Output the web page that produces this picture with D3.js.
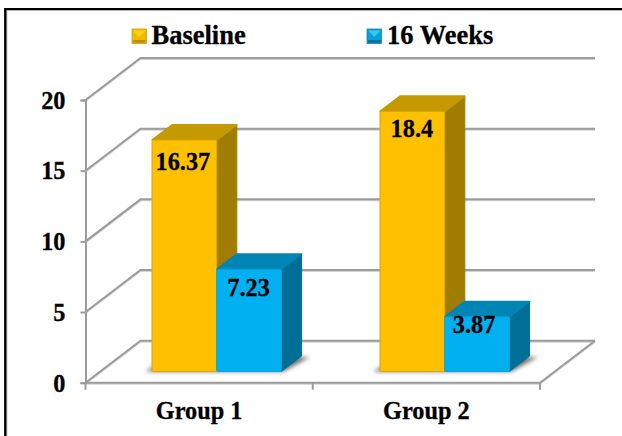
<!DOCTYPE html>
<html>
<head>
<meta charset="utf-8">
<script src="https://cdn.jsdelivr.net/npm/d3@7"></script>
<style>
  html, body { margin: 0; padding: 0; background: #fff; }
  svg { display: block; }
  text { font-family: "Liberation Serif", serif; font-weight: bold; fill: #000; stroke: #000; stroke-width: 0.3px; }
</style>
</head>
<body>
<svg id="chart" width="622" height="436"></svg>
<script>
const groups = ["Group 1", "Group 2"];
const seriesNames = ["Baseline", "16 Weeks"];
const baseline = [16.37, 18.4];
const weeks16 = [7.23, 3.87];
const yTicks = [0, 5, 10, 15, 20];

// Face colours of each cuboid series: front, top, side, front edge
const palettes = [
  { front: "#ffc000", top: "#c59a00", side: "#a07c00", edge: "#d9a50a" },
  { front: "#00b0f0", top: "#0085b5", side: "#006f98", edge: "#0a9fd6" }
];

// Oblique projection of the plot box
const depth = { dx: 55, dy: -42 };
const barDepthStart = 0.268;  // share of the floor depth in front of the bars
const barDepthSpan = 0.365;   // share of the floor depth the bars occupy

const svg = d3.select("#chart");
const y = d3.scaleLinear().domain([0, 20]).range([382.7, 100]);
const x = d3.scaleBand().domain(groups).range([85.5, 540]);
const xBars = d3.scaleBand().domain(groups).range([152, 608]);
const inner = d3.scaleBand().domain(seriesNames).range([0, 129.5]);

const defs = svg.append("defs");
defs.append("filter").attr("id", "soft")
  .attr("x", "-30%").attr("y", "-30%").attr("width", "160%").attr("height", "160%")
  .append("feGaussianBlur").attr("stdDeviation", 2);

// Outer frame: left and top rules only
const frame = svg.append("g");
frame.append("path").attr("d", "M6.5,436V10H622").attr("fill", "none").attr("stroke", "#9a9a9a").attr("stroke-width", 1.5);
frame.append("path").attr("d", "M5.2,436V9H622").attr("fill", "none").attr("stroke", "#000").attr("stroke-width", 2.2);

// Walls and floor
const grid = svg.append("g").attr("fill", "none");
const x0 = x.range()[0], x1 = x.range()[1];
const wallPath = v => {
  const p = d3.path();
  p.moveTo(x0, y(v));
  p.lineTo(x0 + depth.dx, y(v) + depth.dy);
  p.lineTo(x1 + depth.dx, y(v) + depth.dy);
  return p.toString();
};
const floorPath = () => {
  const p = d3.path();
  p.moveTo(x0, y(0));
  p.lineTo(x1, y(0));
  p.lineTo(x1 + depth.dx, y(0) + depth.dy);
  return p.toString();
};
[["#d4d4d4", 1], ["#9c9c9c", 0]].forEach(([colour, shift]) => {
  const layer = grid.append("g").attr("stroke", colour).attr("stroke-width", 2)
    .attr("transform", `translate(0,${shift})`);
  layer.selectAll("path.wall").data(yTicks).join("path").attr("class", "wall").attr("d", wallPath);
  layer.append("path").attr("d", floorPath());
});

// Value axis on the front left edge
const axisY = svg.append("g").attr("transform", `translate(${x0},0)`)
  .call(d3.axisLeft(y).tickValues(yTicks).tickSize(5).tickPadding(15));
axisY.select(".domain").attr("stroke", "#9c9c9c").attr("stroke-width", 2);
axisY.selectAll(".tick line").attr("stroke", "#9c9c9c").attr("stroke-width", 2);
axisY.selectAll(".tick text").attr("font-size", 24.3).attr("font-family", "Liberation Serif")
  .attr("dy", 8.3).attr("fill", "#000");

// Category separators below the floor
const boundaries = [x0, x.bandwidth() + x0, x1];
svg.append("g").selectAll("line").data(boundaries).join("line")
  .attr("x1", d => d).attr("x2", d => d)
  .attr("y1", y(0)).attr("y2", y(0) + 7)
  .attr("stroke", "#9c9c9c").attr("stroke-width", 2);

svg.append("g").selectAll("text").data(groups).join("text")
  .attr("x", d => x(d) + x.bandwidth() / 2)
  .attr("y", 419)
  .attr("text-anchor", "middle")
  .attr("font-size", 24.3)
  .text(d => d);

// Bars: two cuboids per group, drawn back to front and left to right
const baseY = y(0) + depth.dy * barDepthStart;
const sideDx = depth.dx * barDepthSpan;
const sideDy = depth.dy * barDepthSpan;
const barH = v => y(0) - y(v);
const series = [baseline, weeks16];
const barData = groups.flatMap((g, gi) => seriesNames.map((s, si) => ({
  group: g, seriesIndex: si, value: series[si][gi],
  x0: xBars(g) + inner(s),
  w: inner.bandwidth()
})));

// Soft contact shadow on the floor
svg.append("g").attr("filter", "url(#soft)").selectAll("path")
  .data(groups).join("path")
  .attr("fill", "#6e6e6e")
  .attr("d", g => {
    const l = xBars(g);
    const r = l + inner.range()[1];
    const p = d3.path();
    p.moveTo(l - 7, baseY);
    p.lineTo(r + 2, baseY);
    p.lineTo(r + sideDx + 8, baseY + sideDy + 1);
    p.lineTo(r + sideDx - 10, baseY + sideDy + 1);
    p.lineTo(l + 6, baseY - 7);
    p.closePath();
    return p.toString();
  });

const bars = svg.append("g").selectAll("g").data(barData).join("g")
  .attr("stroke-linejoin", "round");

const poly = pts => d3.line()(pts) + "Z";
bars.append("path").attr("class", "side")
  .attr("fill", d => palettes[d.seriesIndex].side)
  .attr("stroke", d => palettes[d.seriesIndex].side).attr("stroke-width", 1)
  .attr("d", d => {
    const r = d.x0 + d.w, t = baseY - barH(d.value);
    return poly([[r, t], [r + sideDx, t + sideDy], [r + sideDx, baseY + sideDy], [r, baseY]]);
  });
bars.append("path").attr("class", "top")
  .attr("fill", d => palettes[d.seriesIndex].top)
  .attr("stroke", d => palettes[d.seriesIndex].top).attr("stroke-width", 1.5)
  .attr("d", d => {
    const r = d.x0 + d.w, t = baseY - barH(d.value);
    return poly([[d.x0, t], [d.x0 + sideDx, t + sideDy], [r + sideDx, t + sideDy], [r, t]]);
  });
bars.append("rect").attr("class", "front")
  .attr("x", d => d.x0)
  .attr("y", d => baseY - barH(d.value))
  .attr("width", d => d.w)
  .attr("height", d => barH(d.value))
  .attr("rx", 1.5)
  .attr("fill", d => palettes[d.seriesIndex].front)
  .attr("stroke", d => palettes[d.seriesIndex].edge)
  .attr("stroke-width", 1);

// Value labels sit inside the front faces, each with its own nudge
const labelNudge = [[-1.5, 30], [-0.5, 27], [-0.5, 26], [-3, 16]];
svg.append("g").selectAll("text").data(barData).join("text")
  .attr("x", (d, i) => d.x0 + d.w / 2 + labelNudge[i][0])
  .attr("y", (d, i) => baseY - barH(d.value) + labelNudge[i][1])
  .attr("text-anchor", "middle")
  .attr("font-size", 24.3)
  .text(d => d.value);

// Legend with bevelled swatches
const legendX = [132, 367];
const legendText = [151.5, 387];
const bevels = [
  { face: "#f2b900", high: "#ffd21a", low: "#b98f00", rim: "#d09f00" },
  { face: "#0a9fd6", high: "#35c8f5", low: "#0a6f9a", rim: "#0a86b8" }
];
const legend = svg.append("g").selectAll("g").data(seriesNames).join("g")
  .attr("transform", (d, i) => `translate(${legendX[i]},29)`);
legend.append("rect").attr("width", 14.5).attr("height", 14.5)
  .attr("fill", (d, i) => bevels[i].face).attr("stroke", (d, i) => bevels[i].rim).attr("stroke-width", 0.8);
legend.append("path").attr("d", "M1,1.5H13.5L7.25,8Z").attr("fill", (d, i) => bevels[i].high);
legend.append("path").attr("d", "M1,11H13.5V13.7H1Z").attr("fill", (d, i) => bevels[i].low);
legend.append("text")
  .attr("x", (d, i) => legendText[i] - legendX[i])
  .attr("y", 14.7)
  .attr("font-size", 26.5)
  .text(d => d);
</script>
</body>
</html>
